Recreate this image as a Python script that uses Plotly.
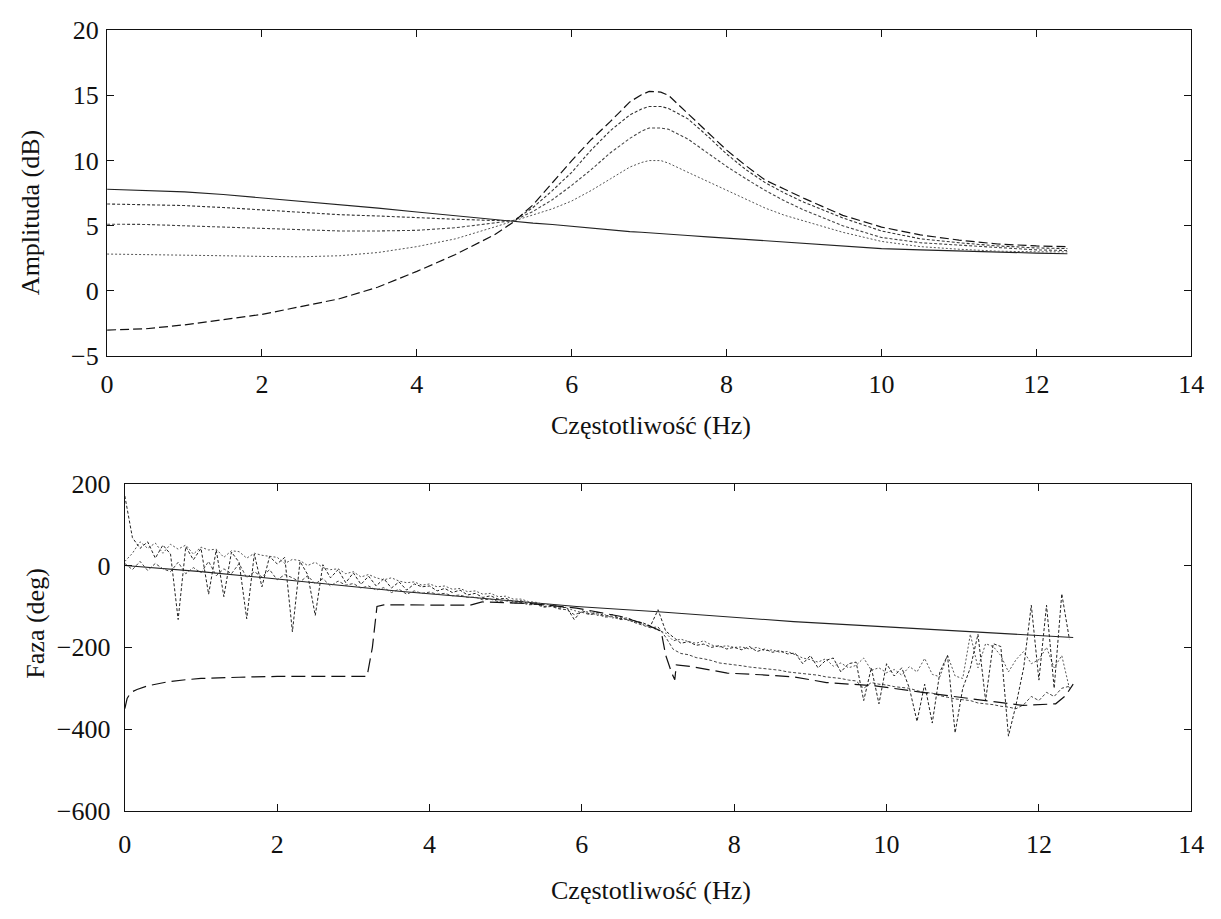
import plotly.graph_objects as go

# ---------------- Top panel: amplitude (dB) ----------------
freq_amp = [0, 0.5, 1, 1.5, 2, 2.5, 3, 3.5, 4, 4.5, 5, 5.25, 5.5, 5.75, 6, 6.25, 6.5,
            6.75, 6.9, 7, 7.15, 7.25, 7.5, 7.75, 8, 8.25, 8.5, 8.75, 9, 9.5, 10, 10.5, 11,
            11.5, 12, 12.4]

amp_solid = [7.8, 7.7, 7.6, 7.4, 7.15, 6.9, 6.65, 6.35, 6.05, 5.75, 5.45, 5.35, 5.2, 5.1, 4.95,
             4.8, 4.7, 4.55, 4.5, 4.45, 4.4, 4.35, 4.25, 4.15, 4.05, 3.95, 3.85, 3.75, 3.65,
             3.45, 3.25, 3.15, 3.05, 2.95, 2.9, 2.85]
amp_dot1 = [6.67, 6.6, 6.55, 6.4, 6.2, 6.0, 5.85, 5.75, 5.6, 5.5, 5.4, 5.4, 6.4, 7.7, 9.1,
            10.8, 12.3, 13.5, 13.95, 14.15, 14.15, 14.0, 13.2, 11.9, 10.5, 9.3, 8.3, 7.5, 6.8,
            5.6, 4.6, 4.0, 3.7, 3.45, 3.3, 3.25]
amp_dot2 = [5.12, 5.1, 5.0, 4.9, 4.75, 4.68, 4.6, 4.6, 4.65, 4.85, 5.2, 5.4, 6.1, 7.0, 8.1,
            9.3, 10.6, 11.7, 12.25, 12.5, 12.5, 12.4, 11.65, 10.6, 9.55, 8.6, 7.7, 6.9, 6.2,
            5.0, 4.1, 3.7, 3.5, 3.3, 3.15, 3.1]
amp_dot3 = [2.83, 2.8, 2.75, 2.7, 2.65, 2.62, 2.7, 2.95, 3.4, 4.0, 4.9, 5.35, 5.8, 6.3, 6.9,
            7.7, 8.6, 9.5, 9.85, 10.0, 10.0, 9.8, 9.1, 8.4, 7.7, 7.0, 6.35, 5.8, 5.35,
            4.5, 3.8, 3.4, 3.2, 3.05, 3.0, 3.0]
amp_dash = [-3.0, -2.9, -2.6, -2.2, -1.8, -1.2, -0.6, 0.3, 1.5, 2.8, 4.3, 5.3, 6.6, 8.3, 10.0,
            11.6, 13.0, 14.5, 15.05, 15.3, 15.25, 15.0, 13.6, 12.2, 10.8, 9.6, 8.5, 7.8, 7.1,
            5.8, 4.9, 4.3, 3.9, 3.6, 3.45, 3.4]

# ---------------- Bottom panel: phase (deg) ----------------
freq_ph = [i / 10 for i in range(125)]  # 0.0 ... 12.4 Hz

ph_noisy1 = [
    170, 68, 42, 58, 18, 50, 28, -132, 46, 14,
    42, -70, 38, -76, 33, 8, -130, 28, -52, 22,
    4, 20, -162, 10, -22, -122, 2, -30, -10, -42,
    -18, -46, -26, -50, -32, -55, -40, -60, -45, -52,
    -50, -62, -56, -66, -60, -72, -68, -78, -74, -82,
    -80, -88, -86, -94, -92, -100, -98, -104, -102, -132,
    -110, -118, -114, -124, -120, -130, -128, -136, -140, -148,
    -108, -160, -175, -190, -186, -195, -192, -200, -196, -204,
    -200, -206, -198, -210, -204, -212, -208, -216, -214, -240,
    -220, -250, -232, -226, -260, -240, -236, -330, -250, -338,
    -240, -270, -250, -300, -381, -290, -385, -260, -220, -409,
    -300, -250, -168, -330, -191, -198, -417, -340, -250, -97,
    -280, -97, -300, -69, -180]
ph_noisy2 = [
    10, 30, 58, 42, 55, 30, 52, 40, 50, 28,
    45, 38, 40, 20, 36, 34, 18, 30, 25, 22,
    20, 5, 15, 12, 0, 8, -5, -10, -8, -20,
    -15, -28, -22, -30, -35, -30, -38, -42, -40, -48,
    -45, -52, -50, -58, -56, -64, -62, -70, -68, -76,
    -75, -82, -82, -88, -90, -95, -96, -100, -104, -110,
    -115, -112, -122, -120, -128, -126, -134, -138, -144, -150,
    -158, -165, -184, -180, -186, -190, -184, -194, -199, -196,
    -200, -199, -204, -200, -208, -206, -212, -210, -218, -226,
    -230, -236, -228, -246, -238, -250, -244, -226, -256, -250,
    -262, -254, -268, -247, -260, -227, -266, -272, -219, -270,
    -276, -168, -250, -191, -198, -220, -260, -230, -210, -240,
    -230, -200, -250, -220, -300]
ph_noisy3 = [
    5, -10, 10, -12, 5, -8, -15, 8, -20, -5,
    -18, 10, -25, -8, -20, 5, -30, -15, -28, -10,
    -35, -22, -30, -40, -25, -45, -32, -50, -38, -48,
    -44, -55, -50, -60, -54, -66, -58, -70, -62, -68,
    -65, -70, -68, -74, -72, -78, -77, -84, -82, -88,
    -86, -92, -90, -96, -95, -102, -100, -106, -108, -120,
    -114, -120, -118, -126, -125, -132, -132, -140, -146, -152,
    -150, -175, -205, -215, -218, -225, -228, -232, -238, -240,
    -242, -245, -248, -250, -252, -255, -256, -260, -262, -264,
    -266, -268, -272, -274, -276, -280, -282, -300, -286, -290,
    -292, -296, -298, -300, -306, -310, -312, -318, -322, -326,
    -328, -330, -336, -338, -340, -344, -346, -350, -340, -320,
    -330, -310, -320, -300, -295]

freq_ph_solid = [0, 1, 2, 3, 3.6, 4.5, 5.93, 7, 8, 8.78, 10, 11, 12, 12.45]
ph_solid = [0, -15, -33, -52, -63, -77, -100, -113, -126, -137, -150, -160, -170, -176]

freq_ph_dash = [0, 0.03, 0.08, 0.16, 0.3, 0.57, 0.8, 1.0, 1.5, 2.0, 2.5, 3.0, 3.18, 3.25, 3.31,
                3.4, 4.0, 4.53, 4.69, 5.33, 5.93, 6.5, 6.84, 7.04, 7.1, 7.18, 7.22, 7.24, 7.44,
                7.91, 8.35, 8.78, 9.21, 9.85, 10.47, 11.14, 11.79, 12.22, 12.35, 12.45]
ph_dash = [-350, -325, -310, -303, -294, -284, -279, -276, -273, -271, -271, -271, -271, -200,
           -100, -96, -97, -97, -89, -93, -104, -124, -144, -160, -219, -263, -279, -243, -247,
           -263, -267, -272, -286, -294, -310, -326, -342, -338, -318, -290]

x_ticks = [0, 2, 4, 6, 8, 10, 12, 14]
amp_ticks = [-5, 0, 5, 10, 15, 20]
ph_ticks = [-600, -400, -200, 0, 200]

FONT = "Liberation Serif"
W, H = 1221, 919

fig = go.Figure()

def add(x, y, dash, color, width, xa, ya):
    fig.add_trace(go.Scatter(x=x, y=y, mode="lines", xaxis=xa, yaxis=ya,
                             line=dict(color=color, width=width, dash=dash),
                             showlegend=False, hoverinfo="skip"))

# top
add(freq_amp, amp_solid, "solid", "#222", 1.1, "x", "y")
add(freq_amp, amp_dot1, "3px,2px", "#333", 1.1, "x", "y")
add(freq_amp, amp_dot2, "3px,2px", "#444", 1.1, "x", "y")
add(freq_amp, amp_dot3, "2px,2px", "#555", 1.0, "x", "y")
add(freq_amp, amp_dash, "9px,4px", "#111", 1.2, "x", "y")

# bottom
add(freq_ph_solid, ph_solid, "solid", "#222", 1.1, "x2", "y2")
add(freq_ph, ph_noisy3, "3px,2px", "#444", 1.0, "x2", "y2")
add(freq_ph, ph_noisy2, "2px,2px", "#555", 1.0, "x2", "y2")
add(freq_ph, ph_noisy1, "3px,2px", "#222", 1.0, "x2", "y2")
add(freq_ph_dash, ph_dash, "14px,6px", "#111", 1.2, "x2", "y2")

axis_common = dict(showline=True, linecolor="#111", linewidth=1.3, mirror="ticks",
                   ticks="inside", ticklen=7, tickcolor="#111", tickwidth=1,
                   showgrid=False, zeroline=False,
                   tickfont=dict(family=FONT, size=26, color="#111"))

fig.update_layout(
    width=W, height=H,
    margin=dict(l=0, r=0, t=0, b=0),
    paper_bgcolor="white", plot_bgcolor="white",
    font=dict(family=FONT),
    xaxis=dict(domain=[102.7 / W, 1204 / W], range=[0, 14], tickvals=x_ticks,
               anchor="y", ticklabelstandoff=4, **axis_common),
    yaxis=dict(domain=[1 - 353.3 / H, 1 - 16.7 / H], range=[-5, 20], tickvals=amp_ticks,
               anchor="x", ticklabelstandoff=2, **axis_common),
    xaxis2=dict(domain=[120.7 / W, 1204 / W], range=[0, 14], tickvals=x_ticks,
                anchor="y2", ticklabelstandoff=10, **axis_common),
    yaxis2=dict(domain=[1 - 823 / H, 1 - 485 / H], range=[-600, 200], tickvals=ph_ticks,
                anchor="x2", ticklabelstandoff=8, **axis_common),
)

title_font = dict(family=FONT, size=26, color="#111")
fig.add_annotation(text="Amplituda (dB)", x=25 / W, y=1 - 205 / H, xref="paper", yref="paper",
                   textangle=-90, showarrow=False, font=title_font, xanchor="center", yanchor="middle")
fig.add_annotation(text="Faza (deg)", x=30 / W, y=1 - 630 / H, xref="paper", yref="paper",
                   textangle=-90, showarrow=False, font=title_font, xanchor="center", yanchor="middle")
fig.add_annotation(text="Częstotliwość (Hz)", x=655 / W, y=1 - 425 / H, xref="paper", yref="paper",
                   showarrow=False, font=title_font, xanchor="center", yanchor="middle")
fig.add_annotation(text="Częstotliwość (Hz)", x=655 / W, y=1 - 905 / H, xref="paper", yref="paper",
                   showarrow=False, font=title_font, xanchor="center", yanchor="middle")

fig.write_html("out.html")
